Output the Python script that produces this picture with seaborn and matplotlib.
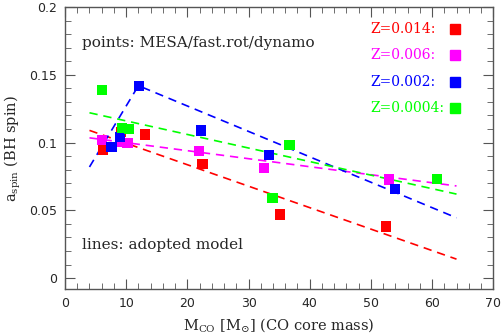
import pandas as pd
import matplotlib
matplotlib.use('Agg')
import matplotlib.pyplot as plt
import seaborn as sns
from matplotlib.ticker import MultipleLocator

# points
z_labels = ['Z=0.014:', 'Z=0.006:', 'Z=0.002:', 'Z=0.0004:']
colors = ['#ff0000', '#ff00ff', '#0000ff', '#00ff00']

m_red = [6.2, 9.1, 13.1, 22.5, 35.2, 52.5]
a_red = [0.095, 0.108, 0.106, 0.084, 0.047, 0.038]
m_mag = [6.0, 9.0, 10.2, 21.9, 32.5, 53.0]
a_mag = [0.102, 0.1005, 0.0995, 0.094, 0.081, 0.0728]
m_blue = [7.6, 9.0, 12.1, 22.2, 33.4, 53.9]
a_blue = [0.097, 0.104, 0.142, 0.109, 0.091, 0.066]
m_green = [6.1, 9.3, 10.5, 33.9, 36.7, 60.8]
a_green = [0.139, 0.111, 0.110, 0.059, 0.098, 0.073]

# adopted model lines (dashed)
line_m_red = [4, 64]
line_a_red = [0.109, 0.014]
line_m_mag = [4, 64]
line_a_mag = [0.1035, 0.068]
line_m_blue = [4, 12, 64]
line_a_blue = [0.082, 0.142, 0.0445]
line_m_green = [4, 64]
line_a_green = [0.122, 0.062]

pts = pd.DataFrame({
    'M': m_red + m_mag + m_blue + m_green,
    'a': a_red + a_mag + a_blue + a_green,
    'Z': [z_labels[0]] * 6 + [z_labels[1]] * 6 + [z_labels[2]] * 6 + [z_labels[3]] * 6,
})
lines = pd.DataFrame({
    'M': line_m_red + line_m_mag + line_m_blue + line_m_green,
    'a': line_a_red + line_a_mag + line_a_blue + line_a_green,
    'Z': [z_labels[0]] * 2 + [z_labels[1]] * 2 + [z_labels[2]] * 3 + [z_labels[3]] * 2,
})

sns.set_style('ticks')
plt.rcParams['font.family'] = ['DejaVu Sans']
plt.rcParams['mathtext.fontset'] = 'dejavuserif'
pal = dict(zip(z_labels, colors))

fig = plt.figure(figsize=(5.02, 3.36), dpi=100)
ax = fig.add_axes([0.1295, 0.140, 0.853, 0.839])

sns.lineplot(data=lines, x='M', y='a', hue='Z', palette=pal, ax=ax,
             legend=False, linewidth=1.2, sort=False)
for ln in ax.get_lines():
    ln.set_dashes([5, 3.5])
sns.scatterplot(data=pts, x='M', y='a', hue='Z', palette=pal, ax=ax,
                legend=False, marker='s', s=55, linewidth=0, zorder=3)

ax.set_xlim(0, 70)
ax.set_ylim(-0.008, 0.2)
ax.xaxis.set_major_locator(MultipleLocator(10))
ax.xaxis.set_minor_locator(MultipleLocator(2))
ax.yaxis.set_major_locator(MultipleLocator(0.05))
ax.yaxis.set_minor_locator(MultipleLocator(0.01))
ax.set_yticks([0, 0.05, 0.1, 0.15, 0.2])
ax.set_yticklabels(['0', '0.05', '0.1', '0.15', '0.2'])
ax.tick_params(which='both', direction='in', top=True, right=True,
               color='#555555', labelsize=9, pad=6)
ax.tick_params(which='major', length=7)
ax.tick_params(which='minor', length=4)
for sp in ax.spines.values():
    sp.set_color('#555555')
    sp.set_linewidth(1.0)

serif = ['DejaVu Serif']
ax.set_xlabel(r'M$_{\rm CO}$ [M$_{\odot}$] (CO core mass)', family=serif, fontsize=10.5)
ax.set_ylabel(r'a$_{\rm spin}$ (BH spin)', family=serif, fontsize=10.5)

ax.text(0.04, 0.872, 'points: MESA/fast.rot/dynamo', transform=ax.transAxes,
        family=serif, fontsize=11, va='center')
ax.text(0.04, 0.156, 'lines: adopted model', transform=ax.transAxes,
        family=serif, fontsize=11, va='center')

rows = [0.922, 0.830, 0.734, 0.642]
for lab, col, yy in zip(z_labels, colors, rows):
    ax.text(0.713, yy, lab, color=col, transform=ax.transAxes,
            family=serif, fontsize=10, va='center')
    ax.plot([0.911], [yy], marker='s', markersize=7, color=col,
            linestyle='none', transform=ax.transAxes)

fig.savefig('out.png', dpi=100)
